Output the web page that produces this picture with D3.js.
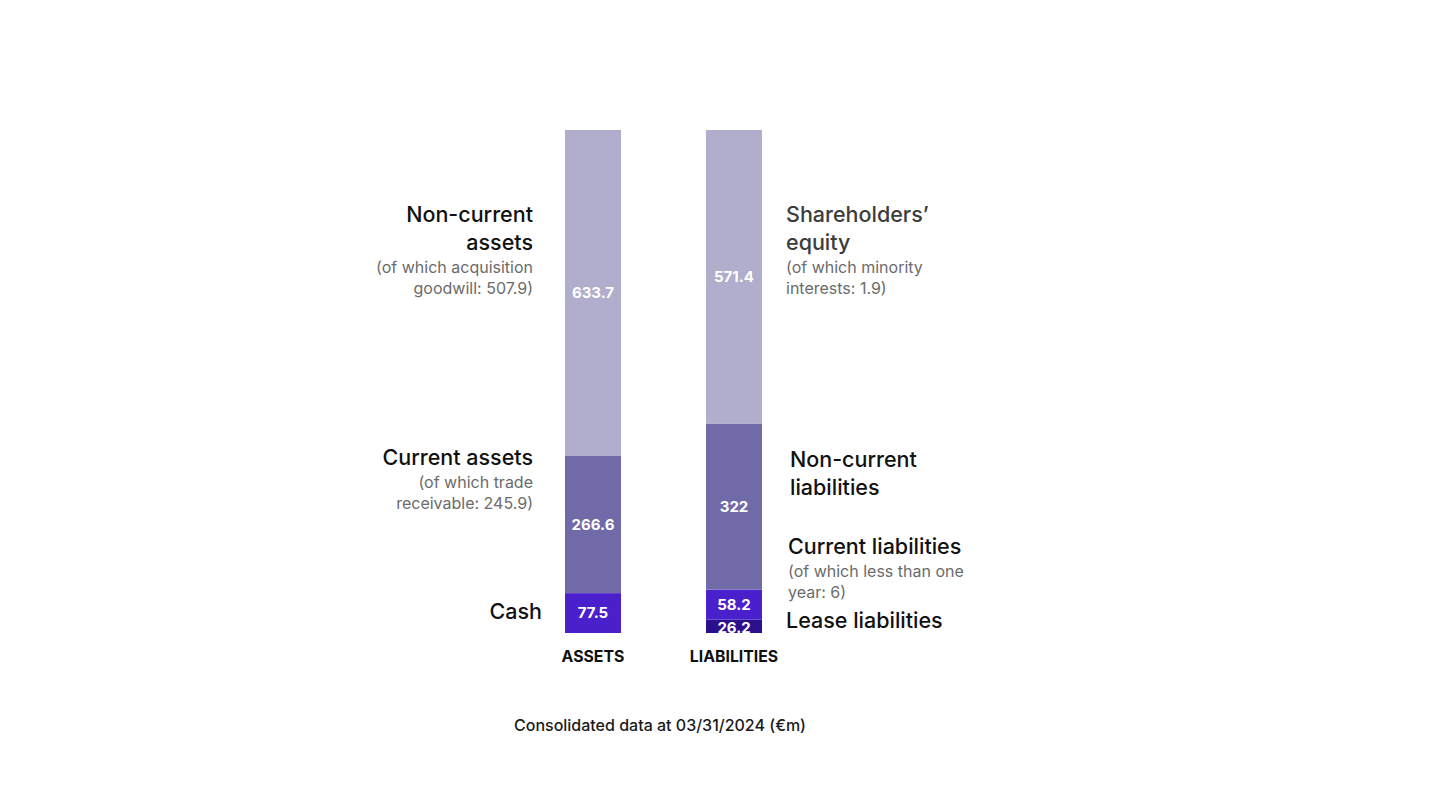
<!DOCTYPE html>
<html>
<head>
<meta charset="utf-8">
<script src="https://cdn.jsdelivr.net/npm/d3@7"></script>
<style>
  body { margin: 0; background: #fff; }
  svg { display: block; font-family: Inter, "Open Sans", sans-serif; }
</style>
</head>
<body>
<svg id="chart" width="1440" height="810"></svg>
<script>
// balance sheet at 03/31/2024 (€m)
const columns = ["ASSETS", "LIABILITIES"];
const assetItems = ["Cash", "Current assets", "Non-current assets"];
const assetValues = [77.5, 266.6, 633.7];
const liabilityItems = ["Lease liabilities", "Current liabilities", "Non-current liabilities", "Shareholders' equity"];
const liabilityValues = [26.2, 58.2, 322, 571.4];
const footnote = "Consolidated data at 03/31/2024 (€m)";

const colors = {
  "Cash": "#4a1fcc",
  "Current assets": "#716aa8",
  "Non-current assets": "#b0aecc",
  "Lease liabilities": "#2c0f8c",
  "Current liabilities": "#4a1fcc",
  "Non-current liabilities": "#716aa8",
  "Shareholders' equity": "#b0aecc"
};

const svg = d3.select("#chart");
const total = d3.sum(assetValues);

const x = d3.scaleBand().domain(columns).range([565, 762]).paddingInner(0.603).paddingOuter(0);
const y = d3.scaleLinear().domain([0, total]).range([633, 130]);

// stack the segments of each column
const stackCol = (items, values) => {
  let acc = 0;
  return items.map((name, i) => {
    const s = { name, value: values[i], y0: acc, y1: acc + values[i] };
    acc += values[i];
    return s;
  });
};
const segs = [
  ...stackCol(assetItems, assetValues).map(d => ({ ...d, col: "ASSETS" })),
  ...stackCol(liabilityItems, liabilityValues).map(d => ({ ...d, col: "LIABILITIES" }))
];

svg.append("g").selectAll("rect").data(segs).join("rect")
  .attr("x", d => x(d.col))
  .attr("width", x.bandwidth())
  .attr("y", d => y(d.y1))
  .attr("height", d => y(d.y0) - y(d.y1))
  .attr("fill", d => colors[d.name]);

svg.append("g").selectAll("text").data(segs).join("text")
  .attr("x", d => x(d.col) + x.bandwidth() / 2)
  .attr("y", d => (y(d.y0) + y(d.y1)) / 2 + (d.name === "Lease liabilities" ? 1 : 0))
  .attr("dy", "0.35em")
  .attr("text-anchor", "middle")
  .attr("fill", "#fff")
  .attr("font-weight", 700)
  .attr("font-size", 15)
  .text(d => String(d.value));

// column captions
svg.append("g").selectAll("text").data(columns).join("text")
  .attr("x", d => x(d) + x.bandwidth() / 2)
  .attr("y", 656)
  .attr("dy", "0.35em")
  .attr("text-anchor", "middle")
  .attr("font-weight", 700)
  .attr("font-size", 15.8)
  .attr("fill", "#111")
  .text(d => d);

// annotations: [x, anchor, lines], each line [y, text, kind]
const annotations = [
  [533, "end", [[214, "Non-current", "h"], [242, "assets", "h"], [267, "(of which acquisition", "s"], [288, "goodwill: 507.9)", "s"]]],
  [533, "end", [[457, "Current assets", "h"], [482, "(of which trade", "s"], [503, "receivable: 245.9)", "s"]]],
  [542, "end", [[611, "Cash", "h"]]],
  [786, "start", [[214, "Shareholders’", "hg"], [242, "equity", "hg"], [267, "(of which minority", "s"], [288, "interests: 1.9)", "s"]]],
  [790, "start", [[459, "Non-current", "h"], [487, "liabilities", "h"]]],
  [788, "start", [[546, "Current liabilities", "h"], [571, "(of which less than one", "s"], [592, "year: 6)", "s"]]],
  [786, "start", [[620, "Lease liabilities", "h"]]]
];

const ann = svg.append("g");
annotations.forEach(([ax, anchor, lines]) => {
  ann.selectAll(null).data(lines).join("text")
    .attr("x", ax)
    .attr("y", d => d[0])
    .attr("dy", "0.35em")
    .attr("text-anchor", anchor)
    .attr("font-size", d => d[2] === "s" ? 16 : 21.5)
    .attr("font-weight", d => d[2] === "s" ? 400 : 500)
    .attr("fill", d => d[2] === "s" ? "#6b6b6b" : d[2] === "hg" ? "#3c3c3c" : "#111")
    .text(d => d[1]);
});

svg.append("text")
  .attr("x", 660)
  .attr("y", 725)
  .attr("dy", "0.35em")
  .attr("text-anchor", "middle")
  .attr("font-size", 16)
  .attr("font-weight", 500)
  .attr("fill", "#1a1a1a")
  .text(footnote);
</script>
</body>
</html>
